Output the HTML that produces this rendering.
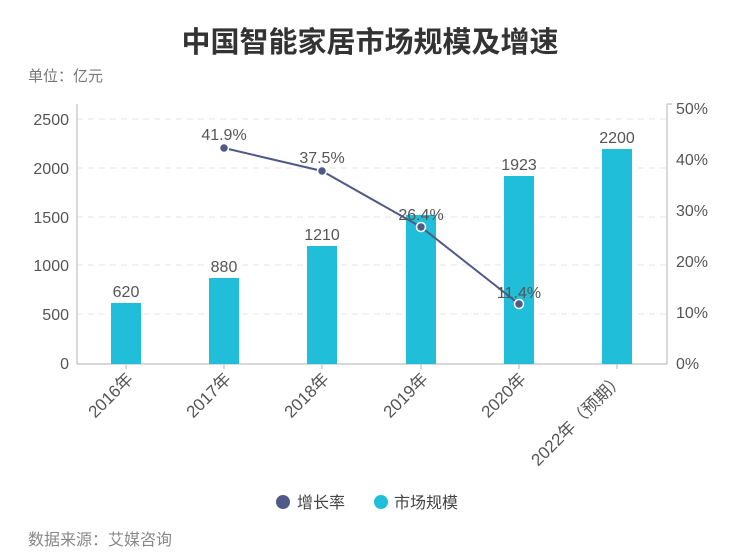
<!DOCTYPE html>
<html><head><meta charset="utf-8"><style>
html,body{margin:0;padding:0;background:#fff;}
svg text{font-family:"Liberation Sans","Noto Sans CJK SC",sans-serif;}
</style></head><body>
<svg width="741" height="555" viewBox="0 0 741 555" xmlns="http://www.w3.org/2000/svg">
<text x="370" y="52" text-anchor="middle" font-size="29" font-weight="bold" fill="#333">中国智能家居市场规模及增速</text>
<text x="28" y="81" font-size="15" fill="#777">单位：亿元</text>
<g stroke="#e6e6e6" stroke-dasharray="6,5" stroke-width="1">
<line x1="77" x2="667" y1="119" y2="119"/><line x1="77" x2="667" y1="168" y2="168"/>
<line x1="77" x2="667" y1="217" y2="217"/><line x1="77" x2="667" y1="265" y2="265"/>
<line x1="77" x2="667" y1="314" y2="314"/>
</g>
<g stroke="#ccc" stroke-width="1.5">
<line x1="77" y1="104" x2="77" y2="364"/><line x1="667" y1="104" x2="667" y2="364"/>
<line x1="77" y1="364" x2="667" y2="364"/>
<line x1="667" y1="104" x2="672" y2="104"/>
<line x1="126" y1="364" x2="126" y2="369"/><line x1="224" y1="364" x2="224" y2="369"/>
<line x1="322" y1="364" x2="322" y2="369"/><line x1="421" y1="364" x2="421" y2="369"/>
<line x1="519" y1="364" x2="519" y2="369"/><line x1="617" y1="364" x2="617" y2="369"/>
</g>
<g font-size="16" fill="#555" text-anchor="end">
<text x="69" y="125">2500</text><text x="69" y="174">2000</text><text x="69" y="223">1500</text>
<text x="69" y="271">1000</text><text x="69" y="320">500</text><text x="69" y="369">0</text>
</g>
<g font-size="16" fill="#555">
<text x="676" y="114">50%</text><text x="676" y="165">40%</text><text x="676" y="216">30%</text>
<text x="676" y="267">20%</text><text x="676" y="318">10%</text><text x="676" y="369">0%</text>
</g>
<g fill="#20bed8">
<rect x="111" y="303" width="30" height="61"/>
<rect x="209" y="278" width="30" height="86"/>
<rect x="307" y="246" width="30" height="118"/>
<rect x="406" y="215" width="30" height="149"/>
<rect x="504" y="176" width="30" height="188"/>
<rect x="602" y="149" width="30" height="215"/>
</g>
<g font-size="16" fill="#555" text-anchor="middle">
<text x="126" y="297">620</text><text x="224" y="272">880</text><text x="322" y="240">1210</text>
<text x="519" y="170">1923</text><text x="617" y="143">2200</text>
</g>
<polyline points="224,148 322,171 421,227 519,304" fill="none" stroke="#4f5b86" stroke-width="2"/>
<g fill="#4f5b86" stroke="#fff" stroke-width="1.5">
<circle cx="224" cy="148" r="4.5"/><circle cx="322" cy="171" r="4.5"/>
<circle cx="421" cy="227" r="4.5"/><circle cx="519" cy="304" r="4.5"/>
</g>
<g font-size="16" fill="#555" text-anchor="middle">
<text x="224" y="140">41.9%</text><text x="322" y="163">37.5%</text>
<text x="421" y="220">26.4%</text><text x="519" y="298">11.4%</text>
</g>
<g font-size="17" fill="#555" text-anchor="end">
<text transform="translate(134,380) rotate(-45)">2016年</text>
<text transform="translate(232,380) rotate(-45)">2017年</text>
<text transform="translate(330,380) rotate(-45)">2018年</text>
<text transform="translate(429,380) rotate(-45)">2019年</text>
<text transform="translate(527,380) rotate(-45)">2020年</text>
<text transform="translate(625,380) rotate(-45)">2022年（预期）</text>
</g>
<circle cx="283" cy="502" r="7" fill="#4f5b86"/>
<text x="297" y="508" font-size="16" fill="#444">增长率</text>
<circle cx="381" cy="502" r="7" fill="#20bed8"/>
<text x="394" y="508" font-size="16" fill="#444">市场规模</text>
<text x="28" y="545" font-size="16" fill="#888">数据来源：艾媒咨询</text>
</svg>
</body></html>
